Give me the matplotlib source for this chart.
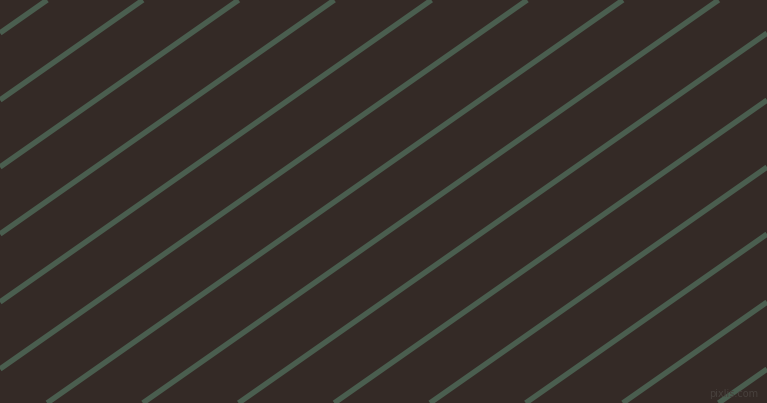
"""Diagonal stripe swatch: green lines over a dark brown ground."""
import matplotlib

matplotlib.use("Agg")
import matplotlib.pyplot as plt

W, H = 767, 403
bg_color = "#342a26"
line_color = "#4a5e4f"

# left-edge crossing (pixel rows) of each stripe, and the common slope
intercepts = [-34, 33, 100, 167, 234, 302, 369, 436, 503, 570, 637, 704, 771, 839, 906, 973]
slope = -0.70

fig = plt.figure(figsize=(W / 100, H / 100), dpi=100)
ax = fig.add_axes([0, 0, 1, 1])
ax.set_facecolor(bg_color)
fig.patch.set_facecolor(bg_color)

for y0 in intercepts:
    ax.axline((0, y0), slope=slope, color=line_color, lw=3.9, solid_capstyle="butt")

ax.text(758, 394, "pixlis.com", color="#48413d", fontsize=7, ha="right", va="center")

ax.set_xlim(0, W)
ax.set_ylim(H, 0)
ax.axis("off")

fig.savefig("out.png", dpi=100, facecolor=bg_color)
plt.close(fig)
